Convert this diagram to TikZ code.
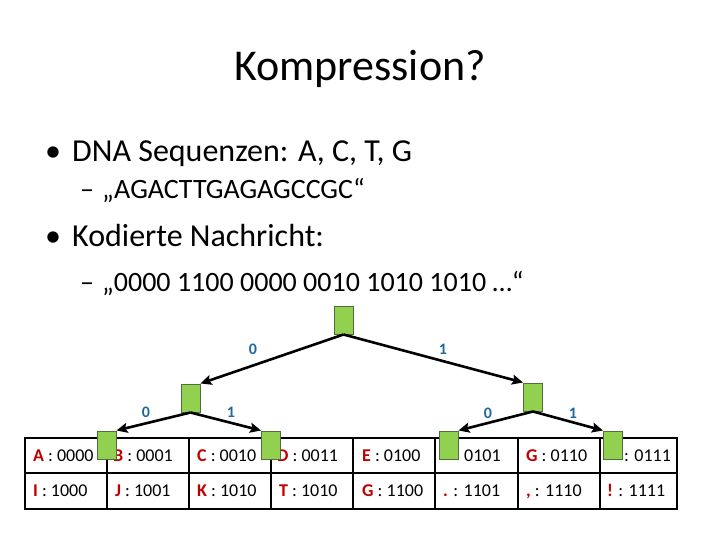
\documentclass[tikz,border=0pt]{standalone}
\usepackage{fontspec}
\setmainfont{Carlito}
\usetikzlibrary{arrows.meta}
\definecolor{boxgreen}{RGB}{146,208,80}
\definecolor{boxedge}{RGB}{80,110,60}
\definecolor{lblblue}{RGB}{31,105,160}
\definecolor{keyred}{RGB}{192,0,0}
\tikzset{
  leafbox/.style={draw=boxedge, line width=1pt, fill=boxgreen, minimum width=19pt, minimum height=28pt, inner sep=0pt},
  treearrow/.style={line width=2.6pt, -{Stealth[length=11pt,width=10pt,inset=2pt]}},
  bitlbl/.style={text=lblblue, font=\fontsize{16}{18}\selectfont\bfseries, inner sep=0pt},
  celltxt/.style={anchor=base west, inner sep=0pt, font=\fontsize{18}{20}\selectfont},
  grid/.style={line width=2pt},
  bodytxt/.style={anchor=base west, inner sep=0pt},
}
\newcommand{\cellkey}[2]{\textcolor{keyred}{\bfseries #1} : #2}
\begin{document}
\begin{tikzpicture}[x=1pt,y=-1pt]
\useasboundingbox (0,0) rectangle (720,540);
% title
\node[anchor=base, inner sep=0pt, font=\fontsize{44}{50}\selectfont] (title) at (360,81) {Kompression?};
% bullets
\node[bodytxt, font=\fontsize{32}{36}\selectfont] (b1) at (45,162) {•};
\node[bodytxt, font=\fontsize{32}{36}\selectfont] (t1) at (72,162) {DNA Sequenzen: A, C, T, G};
\node[bodytxt, font=\fontsize{28}{32}\selectfont] (d1) at (80,199) {–};
\node[bodytxt, font=\fontsize{28}{32}\selectfont] (t2) at (102,199) {„AGACTTGAGAGCCGC“};
\node[bodytxt, font=\fontsize{32}{36}\selectfont] (b2) at (45,247) {•};
\node[bodytxt, font=\fontsize{32}{36}\selectfont] (t3) at (72,247) {Kodierte Nachricht:};
\node[bodytxt, font=\fontsize{28}{32}\selectfont] (d2) at (80,291) {–};
\node[bodytxt, font=\fontsize{28}{32}\selectfont] (t4) at (102,291) {„0000 1100 0000 0010 1010 1010 …“};
% table grid
\draw[grid] (25,438) rectangle (677,509);
\draw[grid] (25,473) -- (677,473);
\foreach \x in {107,189,271,353,435,518,600} \draw[grid] (\x,438) -- (\x,509);
% cells row 1
\node[celltxt] (c1) at (33,461) {\cellkey{A}{0000}};
\node[celltxt] (c2) at (113,461) {\cellkey{B}{0001}};
\node[celltxt] (c3) at (197,461) {\cellkey{C}{0010}};
\node[celltxt] (c4) at (277,461) {\cellkey{D}{0011}};
\node[celltxt] (c5) at (362,461) {\cellkey{E}{0100}};
\node[celltxt] (c6) at (464,461) {0101};
\node[celltxt] (c7) at (526,461) {\cellkey{G}{0110}};
\node[celltxt] (c8) at (624,461) {: 0111};
% cells row 2
\node[celltxt] (d1c) at (33,496) {\cellkey{I}{1000}};
\node[celltxt] (d2c) at (115,496) {\cellkey{J}{1001}};
\node[celltxt] (d3c) at (197,496) {\cellkey{K}{1010}};
\node[celltxt] (d4c) at (279,496) {\cellkey{T}{1010}};
\node[celltxt] (d5c) at (362,496) {\cellkey{G}{1100}};
\node[celltxt] (d6c) at (443,496) {\cellkey{.}{1101}};
\node[celltxt] (d7c) at (526,496) {\cellkey{,}{1110}};
\node[celltxt] (d8c) at (607,496) {\cellkey{!}{1111}};
% tree nodes
\node[leafbox] (root) at (343.5,320) {};
\node[leafbox] (L) at (190.5,398) {};
\node[leafbox] (R) at (533,397) {};
\node[leafbox] (LL) at (106.5,445) {};
\node[leafbox] (LR) at (271,445) {};
\node[leafbox] (RL) at (448.5,445) {};
\node[leafbox] (RR) at (613,445) {};
% arrows
\draw[treearrow] (root.south) -- (L.north east);
\draw[treearrow] (root.south) -- (R.north west);
\draw[treearrow] (L.south) -- (LL.north east);
\draw[treearrow] (L.south) -- (LR.north west);
\draw[treearrow] (R.south) -- (RL.north east);
\draw[treearrow] (R.south) -- (RR.north west);
% labels
\node[bitlbl] (l0) at (253,349) {0};
\node[bitlbl] (l1) at (443,349) {1};
\node[bitlbl] (l00) at (146,412) {0};
\node[bitlbl] (l01) at (231,412) {1};
\node[bitlbl] (l10) at (488,413) {0};
\node[bitlbl] (l11) at (573,413) {1};
\end{tikzpicture}
\end{document}
